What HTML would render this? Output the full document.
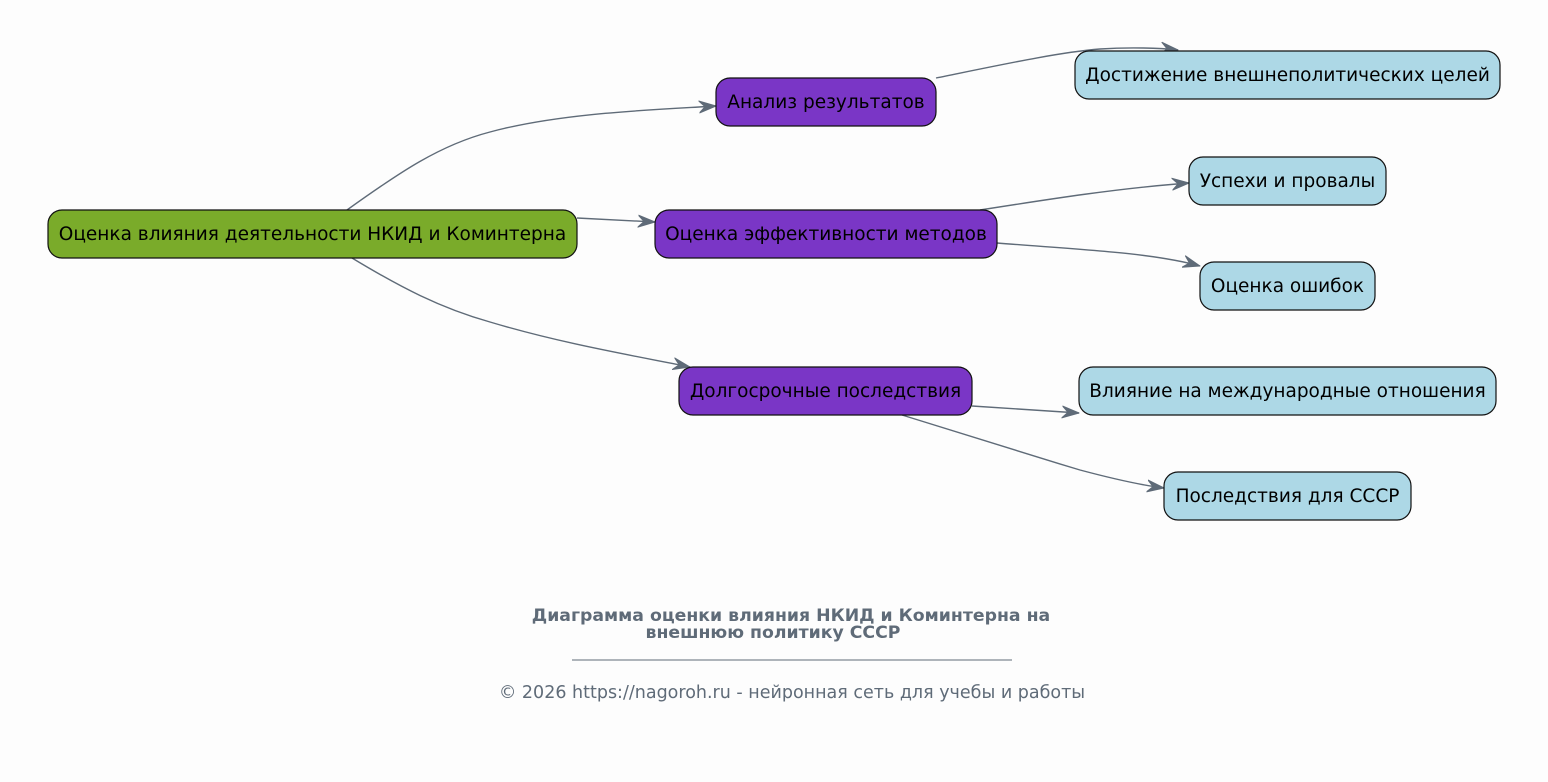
<!DOCTYPE html>
<html><head><meta charset="utf-8"><style>
body{margin:0;background:#fdfdfd}
svg text{font-family:"DejaVu Sans","Liberation Sans",sans-serif}
</style></head><body>
<svg width="1548" height="777" viewBox="0 0 1548 777" xmlns="http://www.w3.org/2000/svg">
<defs>
<marker id="a" viewBox="0 0 18 14" refX="17" refY="7" markerWidth="18" markerHeight="14" markerUnits="userSpaceOnUse" orient="auto">
<path d="M0,1 L17,7 L0,13 L6,7 Z" fill="#5f6b78" stroke="#5f6b78" stroke-width="1" stroke-linejoin="round"/>
</marker>
</defs>
<rect width="1548" height="777" fill="#fdfdfd"/>
<g fill="none" stroke="#5f6b78" stroke-width="1.4" marker-end="url(#a)">
<path d="M347,210 C400,172 440,145 490,132 C560,113 650,110 716,106"/>
<path d="M577,218 L655,222"/>
<path d="M352,258 C400,287 440,308 490,322 C560,343 630,355 690,367"/>
<path d="M936,78 C1000,65 1060,52 1100,49 C1130,47 1160,48 1178,50"/>
<path d="M980,210 C1050,199 1120,188 1189,183"/>
<path d="M997,243 C1070,249 1150,252 1200,266"/>
<path d="M972,406 L1079,413"/>
<path d="M902,415 C960,433 1020,452 1080,470 C1110,478 1140,485 1164,488"/>
</g>
<g stroke="#111" stroke-width="1.2">
<rect x="48" y="210" width="529" height="48" rx="14" fill="#7aab2a"/>
<rect x="716" y="78" width="220" height="48" rx="14" fill="#7a36c6"/>
<rect x="655" y="210" width="342" height="48" rx="14" fill="#7a36c6"/>
<rect x="679" y="367" width="293" height="48" rx="14" fill="#7a36c6"/>
<rect x="1075" y="51" width="425" height="48" rx="14" fill="#add8e6"/>
<rect x="1189" y="157" width="197" height="48" rx="14" fill="#add8e6"/>
<rect x="1200" y="262" width="175" height="48" rx="14" fill="#add8e6"/>
<rect x="1079" y="367" width="417" height="48" rx="14" fill="#add8e6"/>
<rect x="1164" y="472" width="247" height="48" rx="14" fill="#add8e6"/>
</g>
<g font-size="18.5" fill="#000" text-anchor="middle">
<text x="312.5" y="240">Оценка влияния деятельности НКИД и Коминтерна</text>
<text x="826" y="108">Анализ результатов</text>
<text x="826" y="240">Оценка эффективности методов</text>
<text x="825.5" y="397">Долгосрочные последствия</text>
<text x="1287.5" y="81">Достижение внешнеполитических целей</text>
<text x="1287.5" y="187">Успехи и провалы</text>
<text x="1287.5" y="292">Оценка ошибок</text>
<text x="1287.5" y="397">Влияние на международные отношения</text>
<text x="1287.5" y="502">Последствия для СССР</text>
</g>
<g fill="#5f6b78" text-anchor="middle">
<text x="791" y="621" font-size="17.3" font-weight="bold">Диаграмма оценки влияния НКИД и Коминтерна на</text>
<text x="773" y="638" font-size="17.3" font-weight="bold">внешнюю политику СССР</text>
<line x1="572" y1="660" x2="1012" y2="660" stroke="#5f6b78" stroke-width="1"/>
<text x="792" y="698" font-size="17.5">© 2026 https://nagoroh.ru - нейронная сеть для учебы и работы</text>
</g>
</svg>
</body></html>
